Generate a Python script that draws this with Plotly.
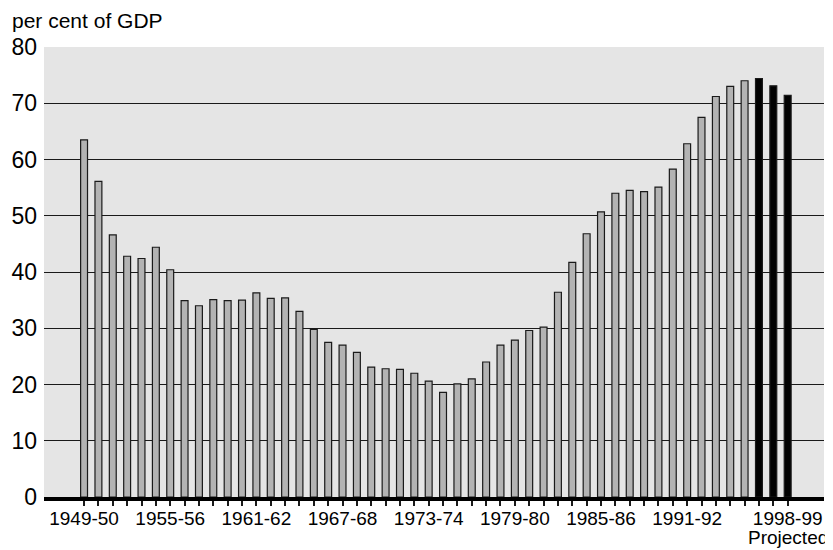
import plotly.graph_objects as go

years = [f"{y}-{str(y + 1)[-2:]}" for y in range(1949, 1999)]
values = [63.5, 56.1, 46.6, 42.8, 42.4, 44.4, 40.4, 34.9, 34.0, 35.1,
          34.9, 35.0, 36.3, 35.3, 35.4, 33.0, 29.8, 27.5, 27.0, 25.7,
          23.1, 22.8, 22.7, 22.0, 20.6, 18.6, 20.1, 21.0, 24.0, 27.0,
          27.9, 29.6, 30.2, 36.4, 41.7, 46.8, 50.7, 54.0, 54.5, 54.3,
          55.1, 58.3, 62.8, 67.5, 71.2, 73.0, 74.0, 74.4, 73.1, 71.4]
projected = [False] * 47 + [True] * 3
labelled = ["1949-50", "1955-56", "1961-62", "1967-68", "1973-74",
            "1979-80", "1985-86", "1991-92", "1998-99"]
projected_note = "Projected"
y_ticks = [0, 10, 20, 30, 40, 50, 60, 70, 80]

colors = ["#000000" if p else "#b3b3b3" for p in projected]
ticktext = [y if y in labelled else "" for y in years]

fig = go.Figure()
fig.add_trace(go.Bar(
    x=years, y=values, width=0.48,
    marker=dict(color=colors, line=dict(color="#1a1a1a", width=1.2)),
))

font = "Liberation Sans, Arial, sans-serif"
# page body has an 8px default margin, so the figure is sized to fill the rest
fig.update_layout(
    width=825, height=542,
    margin=dict(l=36, r=9, t=39, b=53, autoexpand=False),
    paper_bgcolor="white", plot_bgcolor="#e5e5e5",
    showlegend=False,
    font=dict(family=font, color="black"),
    bargap=0.5,
)
fig.update_xaxes(
    type="category", range=[-2.79, 51.53], automargin=False,
    tickmode="array", tickvals=years, ticktext=ticktext,
    tickangle=0, ticks="outside", ticklen=5, tickwidth=1.5, tickcolor="#1a1a1a",
    showline=True, linecolor="black", linewidth=4,
    showgrid=False, tickfont=dict(size=19, family=font), ticklabelstandoff=-4,
)
fig.update_yaxes(
    range=[0, 80], tickvals=y_ticks, showgrid=True, automargin=False,
    gridcolor="#1a1a1a", gridwidth=1.2, zeroline=False,
    tickfont=dict(size=23, family=font), ticks="", ticklabelstandoff=6,
)
fig.add_annotation(
    text="per cent of GDP", xref="paper", yref="paper",
    x=-0.0436, y=1.058, xanchor="left", yanchor="middle",
    showarrow=False, font=dict(size=21, family=font),
)
fig.add_annotation(
    text=projected_note, xref="x", yref="paper",
    x=years[-1], y=-0.0911, xanchor="center", yanchor="middle",
    showarrow=False, font=dict(size=19, family=font),
)
fig.write_html("out.html")
